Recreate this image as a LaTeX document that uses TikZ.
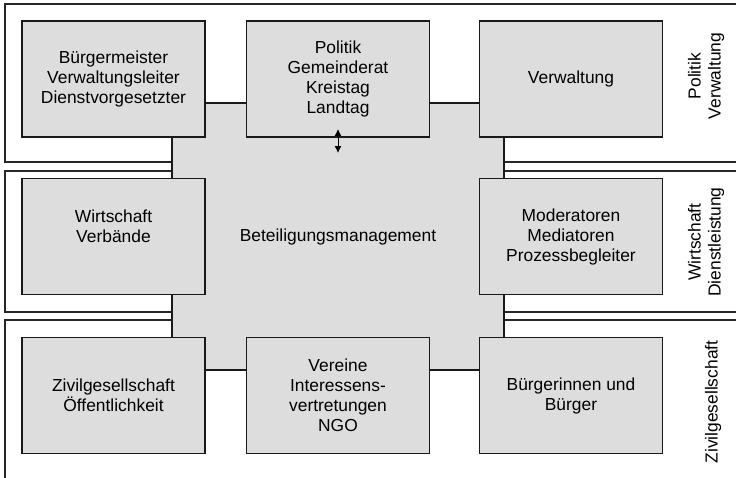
\documentclass[tikz,border=0pt]{standalone}
\usepackage{fontspec}
\setmainfont{Liberation Sans}
\usetikzlibrary{arrows.meta}
\definecolor{boxgray}{RGB}{221,221,221}
\tikzset{
  band/.style={draw=black!85, line width=1.2pt, fill=white},
  unit/.style={draw=black!90, line width=1.2pt, fill=boxgray,
    minimum width=183pt, minimum height=116pt, inner sep=0pt,
    align=center, font=\fontsize{17.4}{20}\selectfont},
  side/.style={rotate=90, align=center, inner sep=0pt,
    font=\fontsize{17.4}{20}\selectfont}
}
\begin{document}
\begin{tikzpicture}[x=1pt,y=-1pt]
  \useasboundingbox (0,0) rectangle (736,477);
  \clip (0,0) rectangle (736,477);
  % bands
  \draw[band] (5,4) rectangle (750,162);
  \draw[band] (5,171) rectangle (750,312);
  \draw[band] (5,320) rectangle (750,490);
  % centre
  \node[unit, minimum width=332pt, minimum height=267pt] (mgmt) at (338,236.5) {Beteiligungsmanagement};
  % boxes
  \node[unit] (bgm) at (113.5,79) {Bürgermeister\\Verwaltungsleiter\\Dienstvorgesetzter};
  \node[unit] (pol) at (338,79) {Politik\\Gemeinderat\\Kreistag\\Landtag};
  \node[unit] (verw) at (571,79) {Verwaltung};
  \node[unit] (wirt) at (113.5,236.5) {Wirtschaft\\Verbände\\~};
  \node[unit] (mod) at (571,236.5) {Moderatoren\\Mediatoren\\Prozessbegleiter};
  \node[unit] (ziv) at (113.5,395.5) {Zivilgesellschaft\\Öffentlichkeit};
  \node[unit] (ver) at (338,395.5) {Vereine\\Interessens-\\vertretungen\\NGO};
  \node[unit] (bue) at (571,395.5) {Bürgerinnen und\\Bürger};
  % arrow
  \coordinate (up) at (338,129);
  \coordinate (dn) at (338,153);
  \draw[{Latex[length=7pt,width=7pt]}-{Latex[length=7pt,width=7pt]}, line width=0.9pt] (up) -- (dn);
  % side labels
  \node[side] (lpv) at (706,76) {Politik\\Verwaltung};
  \node[side] (lwd) at (706,242) {Wirtschaft\\Dienstleistung};
  \node[side] (lz) at (713,402) {Zivilgesellschaft};
\end{tikzpicture}
\end{document}
